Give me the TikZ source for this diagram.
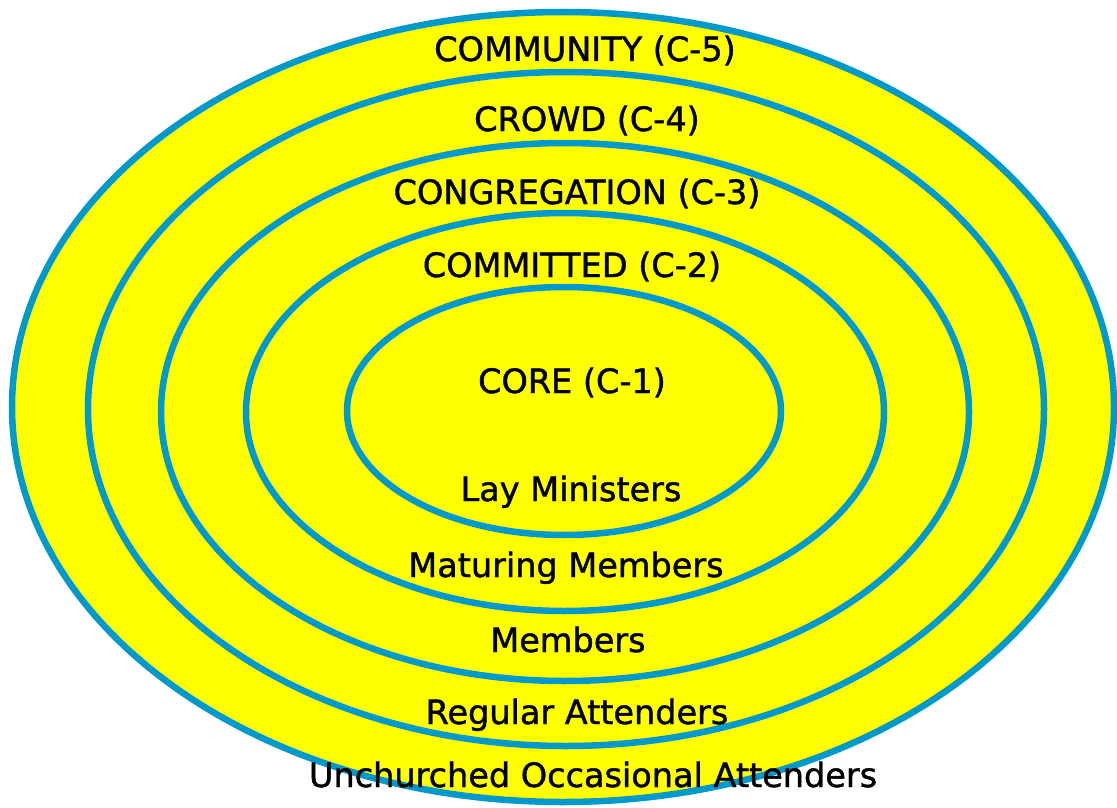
\documentclass[tikz,border=0pt]{standalone}
\usepackage{fontspec}
\setmainfont[AutoFakeBold=1.3]{DejaVu Sans}
\usetikzlibrary{positioning}
\definecolor{ringblue}{RGB}{0,153,204}
\definecolor{ringfill}{RGB}{255,255,0}

\begin{document}
\begin{tikzpicture}[x=1pt,y=-1pt]
\tikzset{ring/.style={draw=ringblue, fill=ringfill, line width=6.5pt},
		lbl/.style={anchor=base, inner sep=0pt, font=\fontsize{33.5}{36}\selectfont\bfseries}}
\useasboundingbox (0,0) rectangle (1117,808);
% rings, outside in
\draw[ring] (563,407) ellipse [x radius=551pt, y radius=395pt];
\draw[ring] (566,409) ellipse [x radius=478pt, y radius=337pt];
\draw[ring] (565,412) ellipse [x radius=404pt, y radius=269pt];
\draw[ring] (565,412) ellipse [x radius=319pt, y radius=199pt];
\draw[ring] (564,411) ellipse [x radius=217pt, y radius=124pt];
% circle names
\node[lbl] (C5) at (585,61) {COMMUNITY (C-5)};
\node[lbl] (C4) at (587,131) {CROWD (C-4)};
\node[lbl] (C3) at (577,204) {CONGREGATION (C-3)};
\node[lbl] (C2) at (572,277) {COMMITTED (C-2)};
\node[lbl] (C1) at (572,393) {CORE (C-1)};
% people
\node[lbl] (LM) at (571,501) {Lay Ministers};
\node[lbl] (MM) at (566,577) {Maturing Members};
\node[lbl] (Mem) at (568,652) {Members};
\node[lbl] (RA) at (577,724) {Regular Attenders};
\node[lbl] (UOA) at (593,787) {Unchurched Occasional Attenders};
\end{tikzpicture}
\end{document}
